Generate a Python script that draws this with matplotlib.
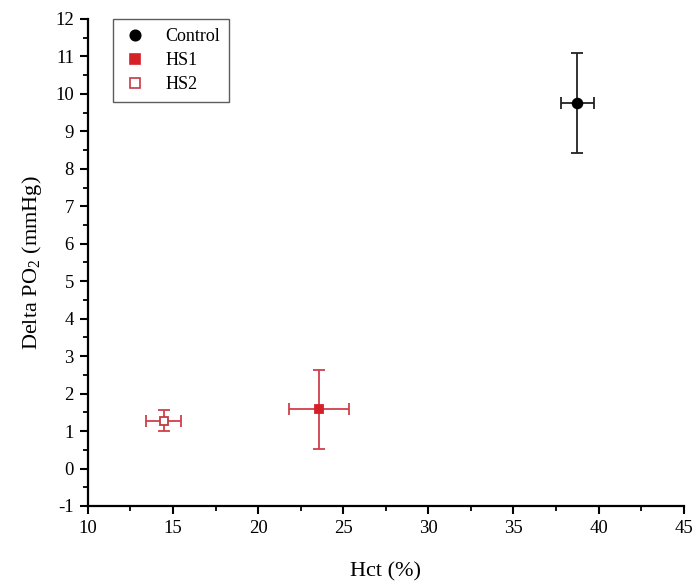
import matplotlib.pyplot as plt
from matplotlib.lines import Line2D
from matplotlib.ticker import MultipleLocator

plt.rcParams["font.family"] = ["Liberation Serif", "DejaVu Serif"]
plt.rcParams["axes.unicode_minus"] = False
plt.rcParams["mathtext.fontset"] = "stix"

# Group means and SD (Hct %, Delta PO2 mmHg)
groups = ["Control", "HS1", "HS2"]
hct = [38.75, 23.6, 14.45]
hct_err = [0.95, 1.76, 1.05]
dpo2 = [9.75, 1.58, 1.28]
dpo2_err = [1.33, 1.06, 0.28]

styles = [
    dict(fmt="o", color="black", mfc="black", ecolor="#222222", ms=7),
    dict(fmt="s", color="#d62027", mfc="#d62027", ecolor="#d0404a", ms=6),
    dict(fmt="s", color="#c33a45", mfc="white", ecolor="#d0404a", ms=6),
]

fig = plt.figure(figsize=(6.97, 5.84), dpi=100)
ax = fig.add_axes([0.126, 0.1336, 0.855, 0.834])

handles = []
for i, name in enumerate(groups):
    st = styles[i]
    ax.errorbar(
        hct[i], dpo2[i], xerr=hct_err[i], yerr=dpo2_err[i],
        fmt=st["fmt"], color=st["color"], mfc=st["mfc"], mec=st["color"],
        ecolor=st["ecolor"], ms=st["ms"], mew=1.3, elinewidth=1.3,
        capsize=4, capthick=1.3,
    )
    handles.append(Line2D([], [], linestyle="none", marker=st["fmt"],
                          color=st["color"], mfc=st["mfc"], mec=st["color"],
                          ms=st["ms"] + 0.5, mew=1.2, label=name))

ax.set_xlim(10, 45)
ax.set_ylim(-1, 12)
ax.xaxis.set_major_locator(MultipleLocator(5))
ax.xaxis.set_minor_locator(MultipleLocator(2.5))
ax.yaxis.set_major_locator(MultipleLocator(1))
ax.yaxis.set_minor_locator(MultipleLocator(0.5))

for side in ["top", "right"]:
    ax.spines[side].set_visible(False)
for side in ["left", "bottom"]:
    ax.spines[side].set_linewidth(1.6)

ax.tick_params(which="major", length=6, width=1.5, labelsize=13.5,
               direction="out", pad=4)
ax.tick_params(which="minor", length=3.5, width=1.3, direction="out")

ax.set_xlabel("Hct (%)", fontsize=16, labelpad=18)
ax.set_ylabel(r"Delta PO$_{\mathregular{2}}$ (mmHg)", fontsize=16, labelpad=8)

leg = ax.legend(
    handles=handles, loc="upper left", bbox_to_anchor=(0.042, 1.0),
    fontsize=13, frameon=True, fancybox=False, edgecolor="#333333",
    handletextpad=0.9, borderpad=0.5, labelspacing=0.4, handlelength=1.5,
    borderaxespad=0.0,
)
leg.get_frame().set_linewidth(1.0)

fig.savefig("out.png", dpi=100)
